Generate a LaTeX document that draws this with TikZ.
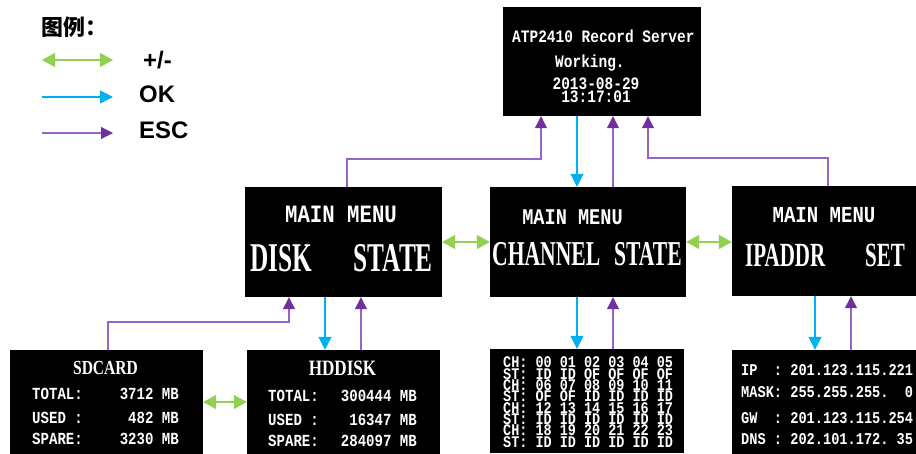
\documentclass[tikz,border=0pt]{standalone}
\usepackage{fontspec}
\setmainfont{Liberation Sans}
\newfontfamily\cjkfont{Noto Sans CJK SC}
\newfontfamily\scrfont[FakeStretch=0.83]{Liberation Mono}
\newfontfamily\menufont[FakeStretch=0.62]{Liberation Serif}
\newfontfamily\titlefont[FakeStretch=0.78]{Liberation Serif}
\usetikzlibrary{arrows.meta}
\definecolor{pmgreen}{RGB}{146,208,80}
\definecolor{okcyan}{RGB}{0,176,240}
\definecolor{esclight}{RGB}{150,100,200}
\definecolor{escdark}{RGB}{112,48,160}

\begin{document}
\begin{tikzpicture}[x=1bp,y=-1bp,
  screen/.style={fill=black,inner sep=0pt},
  scrtxt/.style={text=white,inner sep=0pt,font=\scrfont\bfseries\fontsize{#1}{#1}\selectfont},
  tabrow/.style={scrtxt=16.3,anchor=base west,text height=9.5bp,text depth=0pt},
  menutxt/.style={text=white,inner sep=0pt,font=\menufont\bfseries\fontsize{#1}{#1}\selectfont},
  titletxt/.style={text=white,inner sep=0pt,font=\titlefont\bfseries\fontsize{#1}{#1}\selectfont},
  legtxt/.style={inner sep=0pt,font=\bfseries\fontsize{24}{24}\selectfont},
  plusminus/.style={draw=pmgreen,line width=1.5bp,{Triangle[length=13bp,width=14bp]}-{Triangle[length=13bp,width=14bp]}},
  okline/.style={draw=okcyan,line width=1.2bp,-{Triangle[length=13bp,width=13bp]}},
  escline/.style={draw=esclight,line width=1.2bp,-{Triangle[length=12bp,width=12bp,color=escdark]}}]
\useasboundingbox (0,0) rectangle (916,454);

% Legend
\node[inner sep=0pt,anchor=west,font=\cjkfont\bfseries\fontsize{22}{22}\selectfont] (leg-title) at (41,27) {图例：};
\coordinate (leg-pm-a) at (42,60);
\coordinate (leg-pm-b) at (113,60);
\coordinate (leg-ok-a) at (42,97);
\coordinate (leg-ok-b) at (113,97);
\coordinate (leg-esc-a) at (42,133);
\coordinate (leg-esc-b) at (113,133);
\draw[plusminus] (leg-pm-a) -- (leg-pm-b);
\draw[okline] (leg-ok-a) -- (leg-ok-b);
\draw[escline] (leg-esc-a) -- (leg-esc-b);
\node[legtxt,anchor=west] (leg-pm) at (143,60) {+/-};
\node[legtxt,anchor=base west] (leg-ok) at (139,103) {OK};
\node[legtxt,anchor=base west] (leg-esc) at (139,139) {ESC};

% Node: top
\node[screen,minimum width=198bp,minimum height=109bp] (top) at (602,61.5) {};
\node[scrtxt=17.5,anchor=base west] (top-l1) at (512,43) {ATP2410 Record Server};
\node[scrtxt=17.5,anchor=base west] (top-l2) at (555,68) {Working.};
\node[scrtxt=17.5,anchor=base] (top-l3) at (596,89.5) {2013-08-29};
\node[scrtxt=17.5,anchor=base] (top-l4) at (596,102.5) {13:17:01};

% Node: disk
\node[screen,minimum width=197bp,minimum height=110bp] (disk) at (343.5,242) {};
\node[scrtxt=25,anchor=base] (disk-t) at (341,223) {MAIN MENU};
\node[menutxt=41,anchor=base west] (disk-a) at (250,272) {DISK};
\node[menutxt=41,anchor=base east] (disk-b) at (433,272) {STATE};

% Node: chan
\node[screen,minimum width=196bp,minimum height=110bp] (chan) at (588,242) {};
\node[scrtxt=22.5,anchor=base] (chan-t) at (572.5,225) {MAIN MENU};
\node[menutxt=35,anchor=base west] (chan-a) at (492,266) {CHANNEL};
\node[menutxt=35,anchor=base east] (chan-b) at (682,266) {STATE};

% Node: ip
\node[screen,minimum width=184bp,minimum height=110bp] (ip) at (824,241) {};
\node[scrtxt=23,anchor=base] (ip-t) at (824,223) {MAIN MENU};
\node[menutxt=34,anchor=base west] (ip-a) at (745,267) {IPADDR};
\node[menutxt=34,anchor=base east] (ip-b) at (905,267) {SET};

% Node: sd
\node[screen,minimum width=193bp,minimum height=104bp] (sd) at (106.5,402) {};
\node[titletxt=20,anchor=base] (sd-t) at (105.5,375) {SDCARD};
\node[scrtxt=17,anchor=base west] (sd-l1) at (32,399) {TOTAL:};
\node[scrtxt=17,anchor=base west] (sd-l2) at (32,423) {USED :};
\node[scrtxt=17,anchor=base west] (sd-l3) at (32,444) {SPARE:};
\node[scrtxt=17,anchor=base east] (sd-v1) at (179,399) {3712 MB};
\node[scrtxt=17,anchor=base east] (sd-v2) at (179,423) {482 MB};
\node[scrtxt=17,anchor=base east] (sd-v3) at (179,444) {3230 MB};

% Node: hd
\node[screen,minimum width=193bp,minimum height=104bp] (hd) at (343.5,402) {};
\node[titletxt=22,anchor=base] (hd-t) at (342.5,376) {HDDISK};
\node[scrtxt=17,anchor=base west] (hd-l1) at (268,401) {TOTAL:};
\node[scrtxt=17,anchor=base west] (hd-l2) at (268,425) {USED :};
\node[scrtxt=17,anchor=base west] (hd-l3) at (268,446) {SPARE:};
\node[scrtxt=17,anchor=base east] (hd-v1) at (417,401) {300444 MB};
\node[scrtxt=17,anchor=base east] (hd-v2) at (417,425) {16347 MB};
\node[scrtxt=17,anchor=base east] (hd-v3) at (417,446) {284097 MB};

% Node: tab
\node[screen,minimum width=194bp,minimum height=104bp] (tab) at (587,401) {};
\node[tabrow] (tab-r1) at (503,368) {CH: 00 01 02 03 04 05};
\node[tabrow] (tab-r2) at (503,379.3) {ST: ID ID OF OF OF OF};
\node[tabrow] (tab-r3) at (503,390.6) {CH: 06 07 08 09 10 11};
\node[tabrow] (tab-r4) at (503,401.9) {ST: OF OF ID ID ID ID};
\node[tabrow] (tab-r5) at (503,413.2) {CH: 12 13 14 15 16 17};
\node[tabrow] (tab-r6) at (503,424.4) {ST: ID ID ID ID ID ID};
\node[tabrow] (tab-r7) at (503,435.7) {CH: 18 19 20 21 22 23};
\node[tabrow] (tab-r8) at (503,447) {ST: ID ID ID ID ID ID};

% Node: net
\node[screen,minimum width=184bp,minimum height=104bp] (net) at (824,402) {};
\node[scrtxt=16.5,anchor=base west] (net-r1) at (741,376) {IP~~: 201.123.115.221};
\node[scrtxt=16.5,anchor=base west] (net-r2) at (741,397) {MASK: 255.255.255.~~0};
\node[scrtxt=16.5,anchor=base west] (net-r3) at (741,423) {GW~~: 201.123.115.254};
\node[scrtxt=16.5,anchor=base west] (net-r4) at (741,444) {DNS : 202.101.172.~35};

% Edge: disk <-> chan, chan <-> ip, sd <-> hd
\draw[plusminus] (disk.east) -- (chan.west);
\draw[plusminus] (chan.east) -- (chan.east -| ip.west);
\draw[plusminus] (sd.east) -- (hd.west);

% Edge: top -> chan, chan -> top
\draw[okline] (577,0 |- top.south) -- (577,0 |- chan.north);
\draw[escline] (613,0 |- chan.north) -- (613,0 |- top.south);

% Edge: disk -> top, ip -> top
\draw[escline] (347,0 |- disk.north) -- (347,159) -| (541,0 |- top.south);
\draw[escline] (828,0 |- ip.north) -- (828,158) -| (648,0 |- top.south);

% Edge: sd -> disk
\draw[escline] (108,0 |- sd.north) -- (108,322) -| (289,0 |- disk.south);

% Edge: disk -> hd, hd -> disk
\draw[okline] (325,0 |- disk.south) -- (325,0 |- hd.north);
\draw[escline] (361,0 |- hd.north) -- (361,0 |- disk.south);

% Edge: chan -> tab, tab -> chan
\draw[okline] (577,0 |- chan.south) -- (577,0 |- tab.north);
\draw[escline] (613,0 |- tab.north) -- (613,0 |- chan.south);

% Edge: ip -> net, net -> ip
\draw[okline] (815,0 |- ip.south) -- (815,0 |- net.north);
\draw[escline] (851,0 |- net.north) -- (851,0 |- ip.south);

\end{tikzpicture}
\end{document}
